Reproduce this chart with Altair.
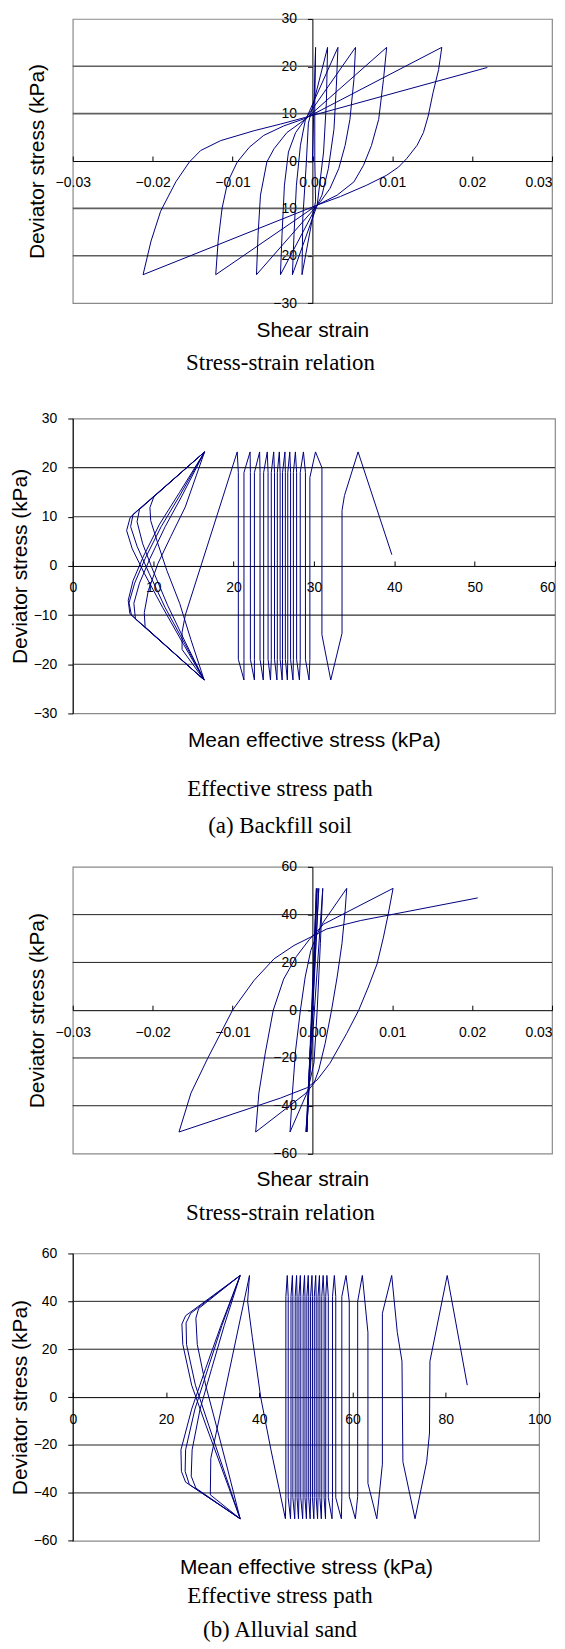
import altair as alt
import pandas as pd

SANS = "Liberation Sans"
SERIF = "Liberation Serif"
NAVY = "#000080"

# ---------------- (a) Backfill soil : stress-strain relation ----------------
P1_STRAIN = [0.0, 0.0004, 0.0003, 0.0003, 0.0004, -0.0013,
             -0.0012, -0.0008, -0.0005, 0.0019,
             0.00175, 0.0014, 0.0009, 0.0006, -0.0025,
             -0.0023, -0.0020, -0.0015, -0.0009, 0.0032,
             0.0030, 0.0027, 0.0020, 0.0012, 0.0006, -0.0040,
             -0.0038, -0.0035, -0.0030, -0.0021, -0.0009, 0.0054,
             0.0052, 0.0047, 0.0041, 0.0033, 0.0022, 0.0010, -0.0070,
             -0.0068, -0.0065, -0.0057, -0.0048, -0.0032, -0.0009, 0.0093,
             0.0089, 0.0083, 0.0074, 0.0064, 0.0052, 0.0031, 0.0006, -0.0121,
             -0.0118, -0.0113, -0.0106, -0.0094, -0.0079, -0.0061, -0.0036, -0.0009, 0.0162,
             0.0158, 0.0151, 0.0145, 0.0139, 0.0131, 0.0118, 0.0108, 0.0093, 0.0068, 0.0035, 0.0006, -0.0212,
             -0.0202, -0.0190, -0.0171, -0.0154, -0.0140, -0.0115, -0.0073, -0.0040, -0.0009, 0.0219]
P1_STRESS = [0.0, 24.0, 12.0, 0.0, -8.5, -24.0,
             -12.0, -1.5, 8.0, 24.0,
             12.3, 1.9, -5.1, -9.3, -24.0,
             -15.5, -5.1, 3.3, 8.5, 24.0,
             15.8, 6.7, -1.6, -7.2, -9.3, -24.0,
             -15.5, -5.1, 1.9, 6.0, 8.8, 24.0,
             17.2, 8.8, 3.3, -1.6, -5.8, -8.6, -24.0,
             -15.5, -7.2, -0.2, 2.6, 6.0, 8.8, 24.0,
             17.2, 8.8, 3.3, -0.9, -4.4, -7.2, -9.3, -24.0,
             -16.9, -9.9, -4.4, -0.2, 2.9, 5.4, 7.4, 9.0, 24.0,
             19.3, 14.4, 9.5, 6.0, 3.3, 0.5, -1.25, -3.0, -5.1, -7.5, -9.3, -24.0,
             -16.9, -10.6, -4.4, -0.2, 2.2, 4.3, 6.4, 7.8, 9.2, 19.75]

# ---------------- (a) Backfill soil : effective stress path ----------------
P2_START_P = [39.7, 35.5, 33.8, 33.5, 33.5, 33.0]
P2_START_Q = [2.3, 23.2, 14.3, 11.3, -13.7, -17.1]
P2_PEAKS = [32.1, 30.2, 29.4, 28.7, 28.2, 27.7, 27.4, 27.0, 26.7, 26.4, 26.05,
            25.7, 25.4, 25.0, 24.6, 24.2, 23.7, 23.25, 22.6, 22.06, 21.3, 20.46]
P2_VERT = [31.0, 29.5, 28.95, 28.3, 27.85, 27.45, 27.1, 26.75, 26.45, 26.1, 25.8,
           25.45, 25.1, 24.7, 24.3, 23.75, 23.3, 22.6, 22.1, 21.3, 20.6]
P2_PEAK_Q = 23.2
P2_BEND_FIRST = [(14.0, 20.0), (18.0, 19.0)]
P2_BEND_DENSE = 19.0
P2_TRANS_P = [14.0, 13.6, 13.6, 16.35]
P2_TRANS_Q = [-10.0, -13.5, -17.0, -23.2]
P2_BFLY_P = [9.0, 8.9, 9.4, 10.6, 12.2, 14.0, 16.4,
             10.1, 9.6, 9.7, 10.6, 11.7, 13.3, 14.7, 16.35,
             7.8, 7.6, 8.3, 9.6, 11.5, 13.5, 16.4,
             8.3, 8.0, 8.7, 10.0, 11.8, 14.0, 16.35,
             7.3, 7.0, 7.7, 9.0, 11.0, 13.2, 16.4,
             7.5, 7.2, 8.0, 9.5, 11.5, 14.0, 16.35,
             7.1, 6.9, 7.5, 8.8, 10.8, 13.3, 16.4,
             7.15, 6.7, 7.4, 8.9, 11.2, 13.8, 16.35]
P2_BFLY_Q = [-12.4, -9.5, -5.0, 0.5, 6.0, 12.0, 23.2,
             14.1, 11.9, 9.2, 4.5, -0.9, -7.6, -15.0, -23.2,
             -10.8, -7.6, -3.5, 1.5, 8.0, 14.0, 23.2,
             11.5, 9.0, 4.5, -1.0, -8.0, -15.5, -23.2,
             -10.0, -7.5, -3.5, 1.5, 8.0, 14.0, 23.2,
             10.5, 8.0, 4.0, -1.5, -8.5, -16.0, -23.2,
             -9.7, -7.0, -3.0, 2.0, 8.5, 15.0, 23.2,
             9.9, 7.2, 3.5, -1.5, -8.5, -16.0, -23.2]

# ---------------- (b) Alluvial sand : stress-strain relation ----------------
P3_STRAIN = [0.0, 0.0005, -0.0007, 0.0006, -0.0007, 0.0008, -0.0008, 0.0013,
             0.0010, 0.0006, 0.0002, -0.0006, -0.0028,
             -0.0025, -0.0021, -0.0015, -0.0009, -0.0002, 0.0006, 0.0014, 0.0043,
             0.0041, 0.0037, 0.0031, 0.0024, 0.0016, 0.0008, 0.0002, -0.0009, -0.0071,
             -0.0067, -0.0059, -0.0049, -0.0036, -0.0020, -0.0004, 0.0014, 0.0101,
             0.0095, 0.0089, 0.0081, 0.0070, 0.0058, 0.0043, 0.0022, 0.0006, -0.0007, -0.0040, -0.0167,
             -0.0152, -0.0131, -0.0100, -0.0073, -0.0048, -0.0023, -0.0002, 0.0018, 0.0060, 0.0207]
P3_STRESS = [0.0, 51.0, -51.0, 51.0, -51.0, 51.0, -51.0, 51.0,
             28.0, 0.0, -22.0, -34.0, -51.0,
             -34.7, -16.7, 0.0, 13.9, 25.0, 31.9, 37.0, 51.0,
             41.7, 27.8, 13.9, 0.0, -13.9, -25.0, -30.6, -35.0, -51.0,
             -34.7, -18.0, 0.0, 13.0, 22.5, 29.5, 36.0, 51.0,
             40.3, 30.6, 19.4, 9.7, 0.0, -9.7, -22.2, -29.2, -32.5, -36.8, -51.0,
             -34.7, -20.1, 0.0, 12.5, 21.5, 27.1, 30.6, 34.0, 37.5, 47.0]

# ---------------- (b) Alluvial sand : effective stress path ----------------
P4_START_P = [84.6, 80.3, 76.6, 76.5, 75.9, 73.4, 70.8, 70.6, 69.6]
P4_START_Q = [5.0, 50.8, 15.0, -15.0, -27.0, -50.8, -27.0, 15.0, 27.0]
P4_PEAKS = [68.4, 65.2, 62.1, 60.6, 58.6, 57.6, 56.1, 55.6, 54.5, 54.2, 53.7, 53.3,
            52.9, 52.5, 52.1, 51.7, 51.3, 50.9, 50.5, 50.1, 49.7, 49.3, 48.8, 48.4,
            48.0, 47.6, 47.1, 46.7, 46.0, 45.6]
P4_VERT = [66.4, 63.3, 61.1, 59.3, 57.7, 56.4, 55.7, 54.8, 54.25, 53.9, 53.4, 53.0,
           52.6, 52.2, 51.8, 51.4, 51.0, 50.6, 50.2, 49.8, 49.4, 48.9, 48.5, 48.1,
           47.7, 47.2, 46.8, 46.2, 45.7]
P4_PEAK_Q = 50.8
P4_BEND_FIRST = [(35.0, 28.0), (36.0, 27.0), (40.0, 41.5), (41.5, 40.0)]
P4_BEND_DENSE = 42.0
P4_TRANS_P = [42.5, 40.3, 38.5, 37.5, 37.9, 29.6, 29.5, 35.9]
P4_TRANS_Q = [-22.0, 0.0, 25.0, 40.0, 50.8, -25.6, -40.8, -50.8]
P4_BFLY_P = [26.4, 25.4, 25.6, 27.3, 29.8, 32.5, 35.9,
             27.0, 26.4, 26.7, 28.5, 30.8, 33.2, 35.9,
             25.0, 24.1, 24.2, 26.2, 29.0, 32.0, 35.9,
             25.3, 24.3, 24.4, 26.3, 29.2, 32.3, 35.9,
             24.2, 23.3, 23.2, 25.5, 28.5, 31.8, 35.9,
             24.2, 23.4, 23.6, 25.5, 28.6, 32.0, 35.9]
P4_BFLY_Q = [-38.0, -33.0, -22.0, -5.0, 12.0, 30.0, 50.8,
             37.0, 33.0, 22.0, 5.0, -12.0, -30.0, -50.8,
             -36.5, -31.0, -22.0, -5.0, 12.0, 30.0, 50.8,
             35.0, 31.0, 22.0, 5.0, -12.0, -30.0, -50.8,
             -35.5, -31.0, -22.0, -5.0, 12.0, 30.0, 50.8,
             34.0, 30.5, 22.0, 5.0, -12.0, -30.0, -50.8]


def cycles(peaks, verts, q_peak, first_sign, bends_first, bend_dense):
    ps, qs = [peaks[0]], [first_sign * q_peak]
    s = first_sign
    for k, v in enumerate(verts):
        a, b = bends_first[k] if k < len(bends_first) else (bend_dense, bend_dense)
        ps += [v, v, peaks[k + 1]]
        qs += [s * a, -s * b, -s * q_peak]
        s = -s
    return ps, qs


def frame_df(xs, ys):
    return pd.DataFrame({"x": xs, "y": ys, "i": list(range(len(xs)))})


c2p, c2q = cycles(P2_PEAKS, P2_VERT, P2_PEAK_Q, -1, P2_BEND_FIRST, P2_BEND_DENSE)
df2 = frame_df(P2_START_P + c2p + P2_TRANS_P + P2_BFLY_P,
               P2_START_Q + c2q + P2_TRANS_Q + P2_BFLY_Q)
c4p, c4q = cycles(P4_PEAKS, P4_VERT, P4_PEAK_Q, 1, P4_BEND_FIRST, P4_BEND_DENSE)
df4 = frame_df(P4_START_P + c4p + P4_TRANS_P + P4_BFLY_P,
               P4_START_Q + c4q + P4_TRANS_Q + P4_BFLY_Q)
df1 = frame_df(P1_STRAIN, P1_STRESS)
df3 = frame_df(P3_STRAIN, P3_STRESS)

Y_TITLE = "Deviator stress (kPa)"


def panel(df, xdom, xvals, xfmt, ydom, yvals, grid_vals, grid_color, grid_width,
          w, h, center_y, x_title, x_title_y, y_title_x, caption, cap_offset,
          cap_dx, cap_lh, right_label=None):
    xscale = alt.Scale(domain=xdom, nice=False, zero=False)
    yscale = alt.Scale(domain=ydom, nice=False, zero=False)
    if right_label is None:
        lab_align = "center"
    else:
        lab_align = {"condition": {"test": f"datum.value >= {right_label}",
                                   "value": "right"},
                     "value": "center"}
    xaxis = alt.Axis(orient="top", offset=-h / 2, values=xvals, format=xfmt,
                     labelFlush=False, labelOverlap=False, tickSize=5,
                     tickColor="black", domainColor="black", domainWidth=1,
                     labelPadding=-20, labelBaseline="top", labelAlign=lab_align,
                     labelFont=SANS, labelFontSize=14, labelColor="black",
                     grid=False, title=x_title, titleX=w / 2, titleY=x_title_y,
                     titleAlign="center", titleBaseline="alphabetic",
                     titleFont=SANS, titleFontSize=21, titleFontWeight="normal",
                     titleColor="black", titleAngle=0)
    yaxis = alt.Axis(orient="left", offset=(-w / 2 if center_y else 0),
                     values=yvals, format="d", labelOverlap=False, tickSize=5,
                     tickColor="black", domainColor="black", domainWidth=1,
                     labelPadding=11, labelFont=SANS, labelFontSize=14,
                     labelColor="black", grid=False, title=Y_TITLE,
                     titleX=y_title_x, titleY=h / 2, titleAngle=270,
                     titleAlign="center", titleBaseline="alphabetic",
                     titleFont=SANS, titleFontSize=21, titleFontWeight="normal",
                     titleColor="black")
    grid = alt.Chart(pd.DataFrame({"y": grid_vals})).mark_rule(
        color=grid_color, strokeWidth=grid_width
    ).encode(y=alt.Y("y:Q", scale=yscale, axis=yaxis))
    line = alt.Chart(df).mark_line(color=NAVY, strokeWidth=1, clip=True).encode(
        x=alt.X("x:Q", scale=xscale, axis=xaxis),
        y=alt.Y("y:Q", scale=yscale, axis=yaxis),
        order="i:Q",
    )
    title = alt.TitleParams(text=caption, orient="bottom", anchor="middle",
                            frame="group", baseline="alphabetic",
                            offset=cap_offset, dx=cap_dx, font=SERIF,
                            fontSize=23, fontWeight="normal", color="black",
                            lineHeight=cap_lh)
    return alt.layer(grid, line).properties(
        width=w, height=h, title=title,
        view=alt.ViewBackground(stroke="#8a8a8a", strokeWidth=1.2),
    )


def spacer(h):
    return alt.Chart(pd.DataFrame({"s": [0]})).mark_point(opacity=0, size=1).encode(
        x=alt.X("s:Q", axis=None), y=alt.Y("s:Q", axis=None)
    ).properties(width=10, height=h,
                 view=alt.ViewBackground(stroke="transparent"))


p1 = panel(df1, [-0.03, 0.03], [-0.03, -0.02, -0.01, 0, 0.01, 0.02, 0.03], ".2f",
           [-30, 30], [-30, -20, -10, 0, 10, 20, 30], [-20, -10, 10, 20],
           "#606060", 1.6, 481, 285.2, True, "Shear strain", 175.9, -269.5,
           "Stress-strain relation", 29.4, -32, 24, right_label=0.029)
p2 = panel(df2, [0, 60], [0, 10, 20, 30, 40, 50, 60], "d",
           [-30, 30], [-30, -20, -10, 0, 10, 20, 30], [-20, -10, 10, 20],
           "#303030", 1.1, 484, 296, False, "Mean effective stress (kPa)", 181,
           -46.3, ["Effective stress path", "(a) Backfill soil"], 46, -34, 37.4,
           right_label=60)
p3 = panel(df3, [-0.03, 0.03], [-0.03, -0.02, -0.01, 0, 0.01, 0.02, 0.03], ".2f",
           [-60, 60], [-60, -40, -20, 0, 20, 40, 60], [-40, -20, 20, 40],
           "#202020", 1.0, 481, 287.7, True, "Shear strain", 176.2, -269.5,
           "Stress-strain relation", 30, -32, 24, right_label=0.029)
p4 = panel(df4, [0, 100], [0, 20, 40, 60, 80, 100], "d",
           [-60, 60], [-60, -40, -20, 0, 20, 40, 60], [-40, -20, 20, 40],
           "#202020", 1.0, 468, 288.4, False, "Mean effective stress (kPa)", 177.2,
           -46.5, ["Effective stress path", "(b) Alluvial sand"], 25.3, -26, 34)

chart = alt.vconcat(p1, spacer(114.3), p2, spacer(154), p3, spacer(99.3), p4,
                    spacing=0, bounds="flush").properties(
    padding={"left": 0, "top": 0, "right": 0, "bottom": 0},
    background="white",
)

chart.save("out.html", embed_options={"renderer": "svg", "actions": False})
